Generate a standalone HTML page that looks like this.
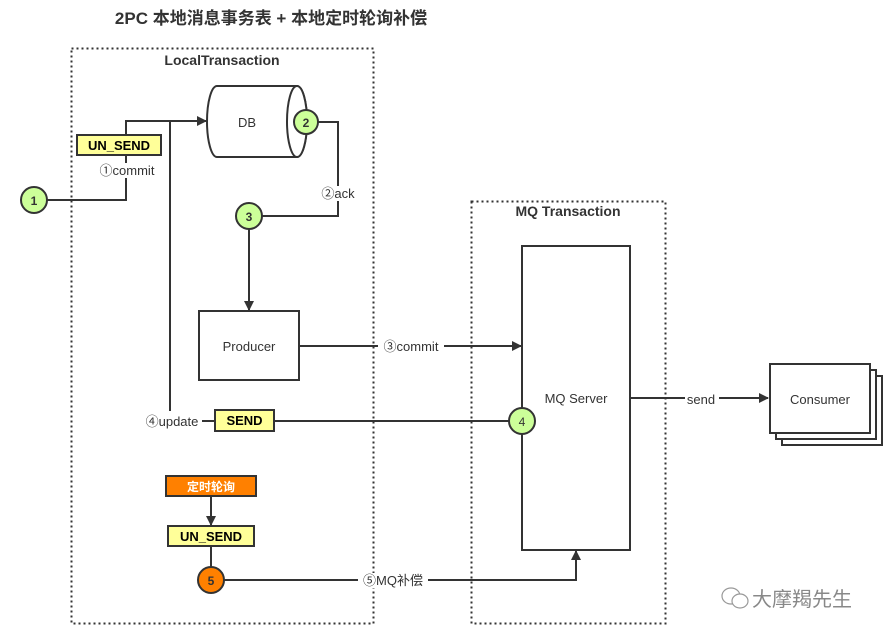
<!DOCTYPE html>
<html><head><meta charset="utf-8"><style>
html,body{margin:0;padding:0;background:#fff;}
svg{display:block;}
text{font-family:"Liberation Sans","Noto Sans CJK SC",sans-serif;}
</style></head><body>
<svg width="892" height="637" viewBox="0 0 892 637" xmlns="http://www.w3.org/2000/svg">
<defs>
<marker id="a" markerWidth="10" markerHeight="10" refX="9" refY="5" orient="auto" markerUnits="userSpaceOnUse">
<path d="M0,0 L10,5 L0,10 Z" fill="#333"/></marker>
</defs>
<rect width="892" height="637" fill="#fff"/>
<text x="271" y="24" font-size="17" font-weight="bold" fill="#333" text-anchor="middle">2PC 本地消息事务表 + 本地定时轮询补偿</text>

<!-- containers -->
<rect x="71.5" y="48.5" width="302" height="575" fill="none" stroke="#333" stroke-width="2" stroke-dasharray="2,3"/>
<text x="222" y="65" font-size="14" font-weight="bold" fill="#333" text-anchor="middle">LocalTransaction</text>
<rect x="471.5" y="201.5" width="194" height="422" fill="none" stroke="#333" stroke-width="2" stroke-dasharray="2,3"/>
<text x="568" y="216" font-size="14" font-weight="bold" fill="#333" text-anchor="middle">MQ Transaction</text>

<g stroke="#333" stroke-width="2" fill="none">
<polyline points="47,200 126,200 126,121 206,121" marker-end="url(#a)"/>
<polyline points="170,121 170,411"/>
<line x1="202" y1="421" x2="215" y2="421"/>
<line x1="274" y1="421" x2="509" y2="421"/>
<polyline points="318,122 338,122 338,216 261,216"/>
<line x1="249" y1="229" x2="249" y2="310" marker-end="url(#a)"/>
<line x1="299" y1="346" x2="521" y2="346" marker-end="url(#a)"/>
<line x1="630" y1="398" x2="768" y2="398" marker-end="url(#a)"/>
<line x1="211" y1="496" x2="211" y2="525" marker-end="url(#a)"/>
<line x1="211" y1="546" x2="211" y2="567"/>
<polyline points="224,580 576,580 576,551" marker-end="url(#a)"/>
</g>

<path d="M217,86 L297,86 A10,35.5 0 0 1 297,157 L217,157 A10,35.5 0 0 1 217,86 Z" fill="#fff" stroke="#333" stroke-width="2"/>
<ellipse cx="297" cy="121.5" rx="10" ry="35.5" fill="#fff" stroke="#333" stroke-width="2"/>
<text x="247" y="127" font-size="13" fill="#333" text-anchor="middle">DB</text>

<rect x="199" y="311" width="100" height="69" fill="#fff" stroke="#333" stroke-width="2"/>
<text x="249" y="351" font-size="13" fill="#333" text-anchor="middle">Producer</text>

<rect x="522" y="246" width="108" height="304" fill="#fff" stroke="#333" stroke-width="2"/>
<text x="576" y="403" font-size="13" fill="#333" text-anchor="middle">MQ Server</text>

<rect x="782" y="376" width="100" height="69" fill="#fff" stroke="#333" stroke-width="2"/>
<rect x="776" y="370" width="100" height="69" fill="#fff" stroke="#333" stroke-width="2"/>
<rect x="770" y="364" width="100" height="69" fill="#fff" stroke="#333" stroke-width="2"/>
<text x="820" y="404" font-size="13" fill="#333" text-anchor="middle">Consumer</text>

<g font-size="13" fill="#333" text-anchor="middle">
<rect x="93" y="163" width="68" height="15" fill="#fff"/>
<text x="127" y="175">①commit</text>
<rect x="319" y="186" width="38" height="15" fill="#fff"/>
<text x="338" y="198">②ack</text>
<rect x="378" y="339" width="66" height="15" fill="#fff"/>
<text x="411" y="351">③commit</text>
<text x="172" y="426">④update</text>
<rect x="685" y="392" width="34" height="15" fill="#fff"/>
<text x="701" y="404">send</text>
<rect x="358" y="573" width="70" height="15" fill="#fff"/>
<text x="393" y="585">⑤MQ补偿</text>
</g>

<g font-size="13" font-weight="bold" text-anchor="middle">
<rect x="77" y="135" width="84" height="20" fill="#ffff99" stroke="#333" stroke-width="2"/>
<text x="119" y="150" fill="#000">UN_SEND</text>
<rect x="215" y="410" width="59" height="21" fill="#ffff99" stroke="#333" stroke-width="2"/>
<text x="244.5" y="425" fill="#000">SEND</text>
<rect x="166" y="476" width="90" height="20" fill="#ff8000" stroke="#333" stroke-width="2"/>
<text x="211" y="491" fill="#fff" font-size="12">定时轮询</text>
<rect x="168" y="526" width="86" height="20" fill="#ffff99" stroke="#333" stroke-width="2"/>
<text x="211" y="541" fill="#000">UN_SEND</text>
</g>

<g stroke="#333" stroke-width="2" font-size="12" font-weight="bold" text-anchor="middle">
<circle cx="34" cy="200" r="13" fill="#ccff99"/>
<text x="34" y="205" fill="#333" stroke="none">1</text>
<circle cx="306" cy="122" r="12" fill="#ccff99"/>
<text x="306" y="127" fill="#333" stroke="none">2</text>
<circle cx="249" cy="216" r="13" fill="#ccff99"/>
<text x="249" y="221" fill="#333" stroke="none">3</text>
<circle cx="522" cy="421" r="13" fill="#ccff99"/>
<text x="522" y="426" fill="#333" stroke="none" font-weight="normal">4</text>
<circle cx="211" cy="580" r="13" fill="#ff8000"/>
<text x="211" y="585" fill="#333" stroke="none">5</text>
</g>

<g fill="none" stroke="#999" stroke-width="1.2">
<ellipse cx="731" cy="596" rx="9" ry="8"/>
<ellipse cx="740" cy="601" rx="8" ry="7" fill="#fff"/>
</g>
<text x="752" y="606" font-size="20" fill="#888">大摩羯先生</text>
</svg>
</body></html>
